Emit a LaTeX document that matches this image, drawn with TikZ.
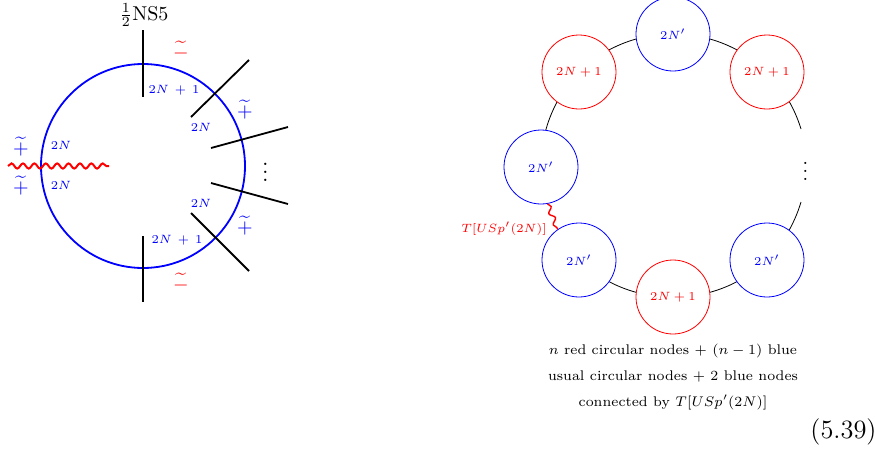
\documentclass[tikz,border=0pt]{standalone}
\usepackage{amsmath}
\usetikzlibrary{decorations.pathmorphing, backgrounds}
\newcommand{\lblfont}{\fontsize{6.5}{8}\selectfont}
\newcommand{\capfont}{\fontsize{7}{9}\selectfont}
\tikzset{
  redcirc/.style={circle, draw=red, text=red, fill=white, minimum size=37pt, inner sep=0pt, font=\lblfont},
  bluecirc/.style={circle, draw=blue, text=blue, fill=white, minimum size=37pt, inner sep=0pt, font=\lblfont},
  brane/.style={black, line width=0.9pt},
  wavy/.style={red, line width=1pt, decorate, decoration={snake, amplitude=1.3pt, segment length=5.7pt}},
  bluelbl/.style={blue, font=\lblfont},
}
\begin{document}
\begin{tikzpicture}[x=0.5pt, y=-0.5pt]
    \useasboundingbox (0,0) rectangle (875,450);
    % circle with branes
    \node[draw=blue, line width=0.9pt, circle, minimum size=102pt, inner sep=0pt] (ring) at (143,166) {};
    \foreach \nm/\xa/\ya/\xb/\yb in {a/143/30/143/97, b/249/60/191/117, c/288/127/211/148,
        d/211/183/288/204, e/191/213/249/271, f/143/236/143/302} {
        \coordinate (\nm1) at (\xa,\ya);
        \coordinate (\nm2) at (\xb,\yb);
        \draw[brane] (\nm1) -- (\nm2);
    }
    \coordinate (w1) at (8,166);
    \coordinate (w2) at (109,166);
    \draw[wavy] (w1) -- (w2);
    \node (ns) at (144,15) {$\frac{1}{2}$NS5};
    \node[font=\large] (dots) at (265.5,166) {$\vdots$};
    % signs
    \foreach \nm/\px/\py in {p1/245/110, p2/245/226, p3/21/147, p4/21/186} {
        \node[blue, inner sep=0pt] (\nm) at (\px,\py) {$\widetilde{+}$};
    }
    \foreach \nm/\px/\py in {m1/181/51, m2/181/283} {
        \node[red, inner sep=0pt] (\nm) at (\px,\py) {$\widetilde{-}$};
    }
    % ranks
    \foreach \nm/\px/\py/\lbl in {r1/174/90/2N\,+\,1, r2/177/240/2N\,+\,1, r3/201/127/2N,
        r4/201/203/2N, r5/61/145/2N, r6/61/185/2N} {
        \node[bluelbl] (\nm) at (\px,\py) {$\lbl$};
    }
    % quiver
    \node[bluecirc] (top) at (673,34) {$2N'$};
    \node[redcirc] (ul) at (579,72) {$2N+1$};
    \node[redcirc] (ur) at (767,72) {$2N+1$};
    \node[bluecirc] (lft) at (541,167) {$2N'$};
    \node[bluecirc] (ll) at (579,260) {$2N'$};
    \node[bluecirc] (lr) at (767,260) {$2N'$};
    \node[redcirc] (bot) at (673,297) {$2N+1$};
    \coordinate (gapu) at (801,129);
    \coordinate (gapd) at (801,202);
    \begin{scope}[on background layer]
        \foreach \p/\q in {lft/ul, ul/top, top/ur, lr/bot, bot/ll} {
            \draw (\p.center) to[bend left=22.5, looseness=.88] (\q.center);
        }
        \draw (ur.center) to[bend left=14, looseness=.85] (gapu);
        \draw (gapd) to[bend left=14, looseness=.85] (lr.center);
    \end{scope}
    \draw[wavy, decoration={snake, amplitude=1.2pt, segment length=6pt}, line width=0.7pt] (lft.280) -- (ll.125);
    \node[red, font=\lblfont, anchor=east, inner sep=0pt] (tl) at (547,229) {$T[USp'(2N)]$};
    \node (qdots) at (805.5,165) {$\vdots$};
    % caption
    \node[font=\capfont] (c1) at (673,351) {$n$ red circular nodes $+$ $(n-1)$ blue};
    \node[font=\capfont] (c2) at (673,376) {usual circular nodes $+$ 2 blue nodes};
    \node[font=\capfont] (c3) at (673,402) {connected by $T[USp'(2N)]$};
    \node[font=\fontsize{13.2}{16}\selectfont, inner sep=0pt] (eq) at (843.5,432) {(5.39)};
\end{tikzpicture}
\end{document}
